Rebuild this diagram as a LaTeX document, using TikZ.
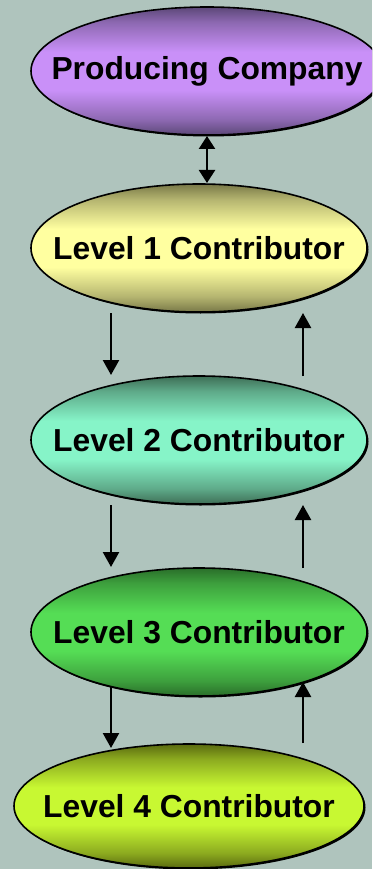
\documentclass[tikz,border=0pt]{standalone}
\usepackage{fontspec}
\setmainfont{Liberation Sans}
\usetikzlibrary{arrows.meta,shadows,shapes.geometric}
\definecolor{bg}{HTML}{AFC4BD}
\definecolor{pcE}{HTML}{5C4878}\definecolor{pcM}{HTML}{C990F8}
\definecolor{aE}{HTML}{787848}\definecolor{aM}{HTML}{FFFFA0}
\definecolor{bE}{HTML}{3E6E56}\definecolor{bM}{HTML}{86F4C8}
\definecolor{cE}{HTML}{2A6E2A}\definecolor{cM}{HTML}{55DD55}
\definecolor{dE}{HTML}{5A6A10}\definecolor{dM}{HTML}{C8F832}
\colorlet{colE}{pcE}\colorlet{colM}{pcM}
\pgfdeclareverticalshading[colE,colM]{ellshade}{100bp}{%
  color(0bp)=(colE); color(25bp)=(colE); color(31bp)=(colE!55!colM); color(42.5bp)=(colM);
  color(57.5bp)=(colM); color(69bp)=(colE!55!colM); color(75bp)=(colE); color(100bp)=(colE)}
\tikzset{
  ell/.style={ellipse, draw=black, line width=1.6pt, inner sep=0pt,
    minimum width=#1, minimum height=128pt,
    drop shadow={shadow xshift=1.5pt, shadow yshift=-1.5pt, fill=black, opacity=1}},
  shd/.style 2 args={/utils/exec={\colorlet{colE}{#1}\colorlet{colM}{#2}}, shading=ellshade},
  lbl/.style={font=\bfseries\fontsize{31.8}{36}\selectfont, text=black},
  arr/.style={line width=2.4pt, -{Triangle[width=16pt,length=15pt]}},
  darr/.style={line width=2.4pt, {Triangle[width=16pt,length=13pt]}-{Triangle[width=16pt,length=13pt]}}
}
\begin{document}
\begin{tikzpicture}[x=1pt,y=-1pt]
\fill[bg] (0,0) rectangle (372,869);
\clip (0,0) rectangle (372,869);
\node[ell=352pt, shd={pcE}{pcM}] (pc) at (207,71) {};
\node[lbl] (pct) at (pc.center) {Producing Company};
\node[ell=336pt, shd={aE}{aM}] (l1) at (199,248) {};
\node[lbl] (l1t) at (l1.center) {Level 1 Contributor};
\node[ell=336pt, shd={bE}{bM}] (l2) at (199,440) {};
\node[lbl] (l2t) at (l2.center) {Level 2 Contributor};
\node[ell=336pt, shd={cE}{cM}] (l3) at (199,632) {};
\node[lbl] (l3t) at (l3.center) {Level 3 Contributor};
\node[ell=350pt, minimum height=124pt, shd={dE}{dM}] (l4) at (189,806) {};
\node[lbl] (l4t) at (l4.center) {Level 4 Contributor};
% connectors
\coordinate (a0) at (207,136); \coordinate (a1) at (207,183);
\draw[darr] (a0) -- (a1);
\coordinate (d1s) at (111,313); \coordinate (d1e) at (111,375);
\coordinate (u1s) at (303,376); \coordinate (u1e) at (303,313);
\draw[arr] (d1s) -- (d1e); \draw[arr] (u1s) -- (u1e);
\coordinate (d2s) at (111,505); \coordinate (d2e) at (111,567);
\coordinate (u2s) at (303,568); \coordinate (u2e) at (303,505);
\draw[arr] (d2s) -- (d2e); \draw[arr] (u2s) -- (u2e);
\coordinate (d3s) at (111,687); \coordinate (d3e) at (111,748);
\coordinate (u3s) at (303,743); \coordinate (u3e) at (303,682);
\draw[arr] (d3s) -- (d3e); \draw[arr] (u3s) -- (u3e);
\end{tikzpicture}
\end{document}
